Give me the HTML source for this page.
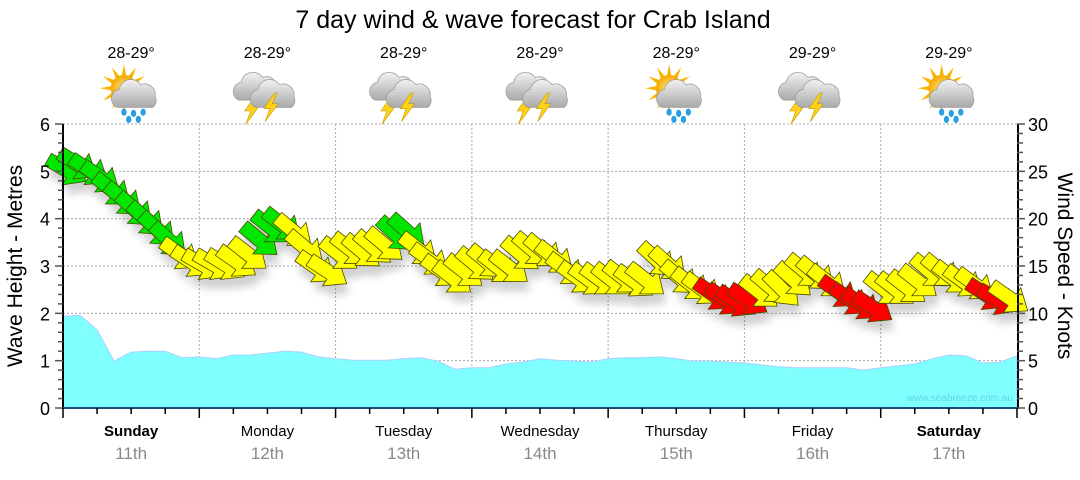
<!DOCTYPE html>
<html><head><meta charset="utf-8">
<style>
body{margin:0;background:#fff;width:1080px;height:475px;overflow:hidden;font-family:"Liberation Sans",sans-serif}
svg text{font-family:"Liberation Sans",sans-serif}
</style></head>
<body>
<svg id="chart" width="1080" height="475" viewBox="0 0 1080 475" xmlns="http://www.w3.org/2000/svg">
<defs>
<filter id="sh" x="-50%" y="-50%" width="200%" height="200%"><feGaussianBlur stdDeviation="4"/></filter>
<radialGradient id="sunG" cx="50%" cy="50%" r="50%"><stop offset="0" stop-color="#ffe680"/><stop offset="1" stop-color="#f5a800"/></radialGradient>
<linearGradient id="cloudG" x1="0" y1="0" x2="0" y2="1"><stop offset="0" stop-color="#f2f2f2"/><stop offset="1" stop-color="#a9a9a9"/></linearGradient>
</defs>
<text x="533" y="28" font-size="25" text-anchor="middle" fill="#000">7 day wind &amp; wave forecast for Crab Island</text>
<g id="grid"></g>
<g id="wave"></g>
<text x="1013" y="401" font-size="10" text-anchor="end" fill="#5fd8dd">www.seabreeze.com.au</text>
<g id="shadows" filter="url(#sh)" opacity="0.18"></g>
<g id="arrows"></g>
<g id="axes"></g>
<g id="icons"></g>
<text transform="translate(22,266) rotate(-90)" font-size="21" text-anchor="middle">Wave Height - Metres</text>
<text transform="translate(1058,266) rotate(90)" font-size="21" text-anchor="middle">Wind Speed - Knots</text>
</svg>
<script>
const days=["Sunday","Monday","Tuesday","Wednesday","Thursday","Friday","Saturday"];
const dates=["11th","12th","13th","14th","15th","16th","17th"];
const boldDays=[true,false,false,false,false,false,true];
const temps=["28-29°","28-29°","28-29°","28-29°","28-29°","29-29°","29-29°"];
const iconTypes=["sunrain","storm","storm","storm","sunrain","storm","sunrain"];
const waveTicks=[0,1,2,3,4,5,6];
const windTicks=[0,5,10,15,20,25,30];
// wave height (m) every 3 hours
const waveHeights=[1.94,1.96,1.65,0.99,1.18,1.20,1.20,1.06,1.08,1.04,1.12,1.12,1.16,1.20,1.18,1.08,1.04,1.01,1.01,1.01,1.04,1.06,0.99,0.82,0.85,0.85,0.93,0.97,1.04,1.01,0.99,0.97,1.04,1.06,1.06,1.08,1.04,0.99,0.99,0.97,0.95,0.91,0.87,0.85,0.85,0.85,0.85,0.80,0.85,0.89,0.93,1.04,1.12,1.10,0.95,0.97,1.10];
// wind speed (knots) every 2 hours
const windSpeeds=[25.1,25.7,25.1,24.3,23.0,22.0,20.9,19.9,18.8,17.7,16.2,15.4,15.1,15.1,15.1,15.4,16.2,17.7,19.0,19.3,18.6,16.9,14.8,14.4,16.2,16.7,16.5,16.9,17.2,18.3,18.6,16.7,15.6,14.4,13.7,14.4,15.1,15.4,14.8,14.8,16.2,16.7,16.5,15.8,14.6,13.7,13.5,13.5,13.5,13.7,13.3,13.5,15.6,15.1,13.7,13.0,12.5,11.9,11.4,11.2,11.4,12.2,12.7,12.5,13.5,14.4,14.1,13.3,12.2,11.4,10.9,10.6,12.5,12.5,12.7,13.3,14.4,14.4,13.7,13.3,13.0,11.9,11.4,11.6];
// arrow rotation (deg clockwise from pointing right)
const windAngles=[30,32,33,35,38,40,42,42,43,43,35,33,30,30,32,35,38,40,38,38,40,40,35,33,38,38,40,40,40,42,42,38,36,36,38,38,40,40,38,38,40,40,40,38,36,36,36,36,38,38,36,38,42,42,40,38,36,35,35,33,33,38,40,45,42,40,40,38,35,35,35,33,38,38,38,38,40,40,38,36,36,33,30,35];
const windColors=["g","g","g","g","g","g","g","g","g","g","y","y","y","y","y","y","y","g","g","g","y","y","y","y","y","y","y","y","y","g","g","y","y","y","y","y","y","y","y","y","y","y","y","y","y","y","y","y","y","y","y","y","y","y","y","y","y","r","r","r","r","y","y","y","y","y","y","y","r","r","r","r","y","y","y","y","y","y","y","y","y","r","r","y"];

const NS="http://www.w3.org/2000/svg";
const X0=63,X1=1017,Y0=408,Y1=124;
const dayW=(X1-X0)/7;
const xHour=h=>X0+h*(X1-X0)/168;
const yWave=m=>Y0-m*(Y0-Y1)/6;
const yWind=k=>Y0-k*(Y0-Y1)/30;
function el(tag,attrs,parent){const e=document.createElementNS(NS,tag);for(const k in attrs)e.setAttribute(k,attrs[k]);parent.appendChild(e);return e;}
const grid=document.getElementById('grid'),axes=document.getElementById('axes');
waveTicks.forEach(t=>{if(t>0){const l=el('line',{x1:X0,x2:X1,y1:yWave(t),y2:yWave(t),stroke:'#aaa','stroke-dasharray':'2,2','stroke-width':1},grid);

}});
for(let d=1;d<7;d++){const l=el('line',{x1:X0+d*dayW,x2:X0+d*dayW,y1:Y1,y2:Y0,stroke:'#aaa','stroke-dasharray':'2,2','stroke-width':1},grid);

}
let pts=waveHeights.map((v,i)=>xHour(i*3).toFixed(1)+','+yWave(v).toFixed(1));
const area=el('polygon',{points:X0+','+Y0+' '+pts.join(' ')+' '+X1+','+Y0,fill:'#80ffff',stroke:'#a8d0ff','stroke-width':1},document.getElementById('wave'));


const la=el('line',{x1:X0,x2:X0,y1:Y1,y2:Y0+1,stroke:'#000','stroke-width':2},axes);


const ra=el('line',{x1:X1+1,x2:X1+1,y1:Y1,y2:Y0+1,stroke:'#000','stroke-width':2},axes);


const ba=el('line',{x1:X0,x2:X1+1,y1:Y0,y2:Y0,stroke:'#1b4d7a','stroke-width':2},axes);


for(let i=0;i<=30;i++){const y=Y0-i*(Y0-Y1)/30;
 el('line',{x1:X0-(i%5?5:8),x2:X0,y1:y,y2:y,stroke:'#555','stroke-width':1.5},axes);
 el('line',{x1:X1,x2:X1+(i%5?6:8),y1:y,y2:y,stroke:'#555','stroke-width':1.5},axes);}
waveTicks.forEach(t=>{const tx=el('text',{x:50,y:yWave(t)+7,'font-size':18,'text-anchor':'end'},axes);tx.textContent=t;

});
windTicks.forEach(t=>{const tx=el('text',{x:1028,y:yWind(t)+7,'font-size':18},axes);tx.textContent=t;

});
for(let h=0;h<=168;h+=6){const x=xHour(h);el('line',{x1:x,x2:x,y1:Y0,y2:Y0+(h%24?6:10),stroke:'#000','stroke-width':1.5},axes);}
days.forEach((d,i)=>{const cx=X0+(i+0.5)*dayW;
 const t=el('text',{x:cx,y:436,'font-size':15,'text-anchor':'middle','font-weight':boldDays[i]?'bold':'normal'},axes);t.textContent=d;
 
 
 const t2=el('text',{x:cx,y:459,'font-size':17,'text-anchor':'middle',fill:'#888'},axes);t2.textContent=dates[i];
 
 
 const t3=el('text',{x:cx,y:58,'font-size':16,'text-anchor':'middle'},axes);t3.textContent=temps[i];
 
 
});
const icons=document.getElementById('icons');
function cloud(g,dx,dy){el('path',{d:`M${dx-16},${dy+8} a8,8 0 0 1 2,-15 a10,10 0 0 1 18,-4 a9,9 0 0 1 12,10 a7,7 0 0 1 -2,9 z`,fill:'url(#cloudG)',stroke:'#999','stroke-width':0.6},g);}
function bolt(g,dx,dy){el('polygon',{points:`${dx+4},${dy-6} ${dx-5},${dy+7} ${dx},${dy+7} ${dx-4},${dy+18} ${dx+7},${dy+3} ${dx+2},${dy+3} ${dx+6},${dy-6}`,fill:'#ffd21a',stroke:'#c89600','stroke-width':0.5},g);}
iconTypes.forEach((tp,i)=>{const cx=X0+(i+0.5)*dayW,cy=0;
 const outer=el('g',{transform:`translate(${cx},93) scale(1.2)`},icons);
 
 
 const g=el('g',{},outer);const c=0;
 if(tp==='sunrain'){
  for(let a=0;a<360;a+=30){const r=a*Math.PI/180;el('polygon',{points:`${-6+Math.cos(r)*20},${-4+Math.sin(r)*20} ${-6+Math.cos(r+0.2)*10},${-4+Math.sin(r+0.2)*10} ${-6+Math.cos(r-0.2)*10},${-4+Math.sin(r-0.2)*10}`,fill:'#f7b500'},g);}
  el('circle',{cx:-6,cy:-4,r:11,fill:'url(#sunG)'},g);
  cloud(g,4,4);
  [[-6,16],[2,17],[10,16],[-2,22],[6,22]].forEach(p=>el('ellipse',{cx:p[0],cy:p[1],rx:2.2,ry:3,fill:'#2aa0e0'},g));
 }else{
  cloud(g,-8,-2);bolt(g,-14,8);
  cloud(g,6,4);bolt(g,2,6);
 }
});
const colMap={g:'#00e600',y:'#ffff00',r:'#ff0000'};
const arrowsG=document.getElementById('arrows'),shG=document.getElementById('shadows');
const shape="M-22,-7 L3,-7 L3,-15 L22,0 L3,15 L3,7 L-22,7 Z";
windSpeeds.forEach((k,i)=>{const x=xHour(i*2)+4,y=yWind(k);
 el('path',{d:shape,fill:'#000',transform:`translate(${x+3},${y+10}) rotate(${windAngles[i]})`},shG);
 const a=el('path',{d:shape,fill:colMap[windColors[i]],stroke:'#4a4a00','stroke-width':0.8,transform:`translate(${x},${y}) rotate(${windAngles[i]})`},arrowsG);
 
 
});
</script>
</body></html>
